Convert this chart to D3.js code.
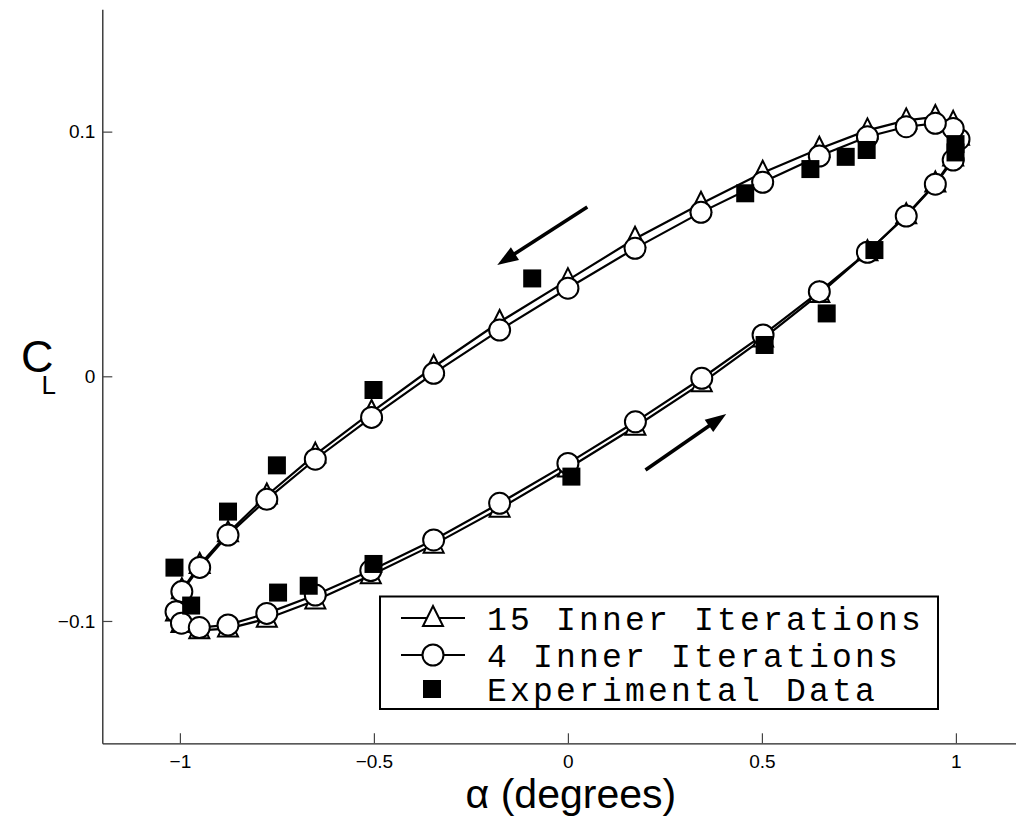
<!DOCTYPE html>
<html>
<head>
<meta charset="utf-8">
<script src="https://cdn.jsdelivr.net/npm/d3@7"></script>
<style>
  body { margin: 0; background: #fff; }
  text { fill: #000; }
</style>
</head>
<body>
<svg id="chart" width="1016" height="819"></svg>
<script>
// angle of attack for the simulated points (one pitching cycle)
const alphaSim = [0, 0.174, 0.345, 0.503, 0.648, 0.772, 0.872, 0.947, 0.993, 1.008,
  0.993, 0.947, 0.872, 0.772, 0.648, 0.502, 0.343, 0.173, 0,
  -0.176, -0.346, -0.506, -0.651, -0.776, -0.876, -0.949, -0.995, -1.01,
  -0.996, -0.95, -0.876, -0.776, -0.651, -0.508, -0.346, -0.176];

// 15 inner iterations
const cl15 = [-0.0377, -0.0206, -0.0028, 0.0154, 0.0336, 0.0507, 0.0658, 0.0788, 0.0894, 0.0979,
  0.1036, 0.1060, 0.1046, 0.1005, 0.0930, 0.0832, 0.0705, 0.0562, 0.0393,
  0.0222, 0.0038, -0.0146, -0.0320, -0.0487, -0.0641, -0.0771, -0.0874, -0.0965,
  -0.1012, -0.1038, -0.1031, -0.0991, -0.0916, -0.0813, -0.0688, -0.0541];

// 4 inner iterations
const cl4 = [-0.0356, -0.0186, -0.0008, 0.0169, 0.0346, 0.0507, 0.0655, 0.0785, 0.0884, 0.0969,
  0.1013, 0.1034, 0.1020, 0.0979, 0.0900, 0.0793, 0.0670, 0.0523, 0.0360,
  0.0189, 0.0012, -0.0168, -0.0339, -0.0503, -0.0649, -0.0781, -0.0880, -0.0962,
  -0.1009, -0.1027, -0.1016, -0.0969, -0.0894, -0.0794, -0.0669, -0.0519];

// experimental data
const alphaExp = [-1.014, -0.971, -0.876, -0.750, -0.501, -0.092, 0.457, 0.625, 0.716, 0.770,
  0.999, 0.999, 0.790, 0.667, 0.507, 0.009, -0.501, -0.668, -0.747];
const clExp = [-0.0782, -0.0937, -0.0553, -0.0364, -0.0056, 0.0400, 0.0748, 0.0847, 0.0897, 0.0925,
  0.0949, 0.0915, 0.0516, 0.0257, 0.0128, -0.0410, -0.0767, -0.0856, -0.0884];

// direction arrows [from, to] in data units
const arrows = [
  [[0.05, 0.0692], [-0.182, 0.0455]],
  [[0.20, -0.0383], [0.408, -0.0154]]
];

const xTicks = [-1, -0.5, 0, 0.5, 1];
const yTicks = [-0.1, 0, 0.1];
const legendLabels = ["15 Inner Iterations", "4 Inner Iterations", "Experimental Data"];

const svg = d3.select("#chart");

const x = d3.scaleLinear().domain([-1.2, 1.2]).range([102.3, 1033.5]);
const y = d3.scaleLinear().domain([-0.15, 0.15]).range([743.3, 9.3]);

/*
 * axes (MATLAB style, box off, ticks inward)
 */
const xAxis = svg.append("g")
  .attr("transform", `translate(0,${y(-0.15)})`)
  .call(d3.axisBottom(x).tickValues(xTicks).tickSizeInner(-10).tickSizeOuter(0)
    .tickPadding(11.5).tickFormat(d3.format("")));

const yAxis = svg.append("g")
  .attr("transform", `translate(${x(-1.2)},0)`)
  .call(d3.axisLeft(y).tickValues(yTicks).tickSizeInner(-10).tickSizeOuter(0)
    .tickPadding(7).tickFormat(d3.format("")));

[xAxis, yAxis].forEach(ax => {
  ax.select(".domain").attr("stroke", "#222").attr("stroke-width", 1.3);
  ax.selectAll(".tick line").attr("stroke", "#444").attr("stroke-width", 1.2);
  ax.selectAll(".tick text")
    .attr("font-family", "'Liberation Sans', Arial, sans-serif")
    .attr("font-size", 19);
});

// axis labels
svg.append("text")
  .attr("x", x(0) + 3)
  .attr("y", 808)
  .attr("text-anchor", "middle")
  .attr("font-family", "'Liberation Sans', Arial, sans-serif")
  .attr("font-size", 41)
  .text("\u03b1 (degrees)");

const yl = svg.append("text")
  .attr("x", 21)
  .attr("y", 372)
  .attr("font-family", "'Liberation Sans', Arial, sans-serif")
  .attr("font-size", 45);
yl.append("tspan").text("C");
yl.append("tspan").attr("dx", -12).attr("dy", 22).attr("font-size", 26).text("L");

/*
 * series
 */
const sim15 = alphaSim.map((a, i) => [a, cl15[i]]);
const sim4 = alphaSim.map((a, i) => [a, cl4[i]]);
const exp = alphaExp.map((a, i) => [a, clExp[i]]);

const line = d3.line().x(d => x(d[0])).y(d => y(d[1])).curve(d3.curveLinearClosed);

const triPath = "M0,-12L10,8L-10,8Z";

// 15 inner iterations: line + triangles
svg.append("path")
  .datum(sim15)
  .attr("d", line)
  .attr("fill", "none")
  .attr("stroke", "#000")
  .attr("stroke-width", 2.2);

svg.append("g").selectAll("path")
  .data(sim15)
  .enter()
  .append("path")
  .attr("transform", d => `translate(${x(d[0])},${y(d[1])})`)
  .attr("d", triPath)
  .attr("fill", "#fff")
  .attr("stroke", "#000")
  .attr("stroke-width", 2);

// 4 inner iterations: line + circles
svg.append("path")
  .datum(sim4)
  .attr("d", line)
  .attr("fill", "none")
  .attr("stroke", "#000")
  .attr("stroke-width", 2.2);

svg.append("g").selectAll("circle")
  .data(sim4)
  .enter()
  .append("circle")
  .attr("cx", d => x(d[0]))
  .attr("cy", d => y(d[1]))
  .attr("r", 10.5)
  .attr("fill", "#fff")
  .attr("stroke", "#000")
  .attr("stroke-width", 2);

// experimental squares
svg.append("g").selectAll("rect")
  .data(exp)
  .enter()
  .append("rect")
  .attr("x", d => x(d[0]) - 9)
  .attr("y", d => y(d[1]) - 9)
  .attr("width", 18)
  .attr("height", 18)
  .attr("fill", "#000");

/*
 * arrows
 */
arrows.forEach(([from, to]) => {
  const x0 = x(from[0]), y0 = y(from[1]), x1 = x(to[0]), y1 = y(to[1]);
  const ang = Math.atan2(y1 - y0, x1 - x0);
  const len = 21, half = 7.5;
  const bx = x1 - len * Math.cos(ang), by = y1 - len * Math.sin(ang);
  svg.append("line")
    .attr("x1", x0).attr("y1", y0)
    .attr("x2", bx + 3 * Math.cos(ang)).attr("y2", by + 3 * Math.sin(ang))
    .attr("stroke", "#000")
    .attr("stroke-width", 3.6);
  svg.append("path")
    .attr("d", `M${x1},${y1}L${bx - half * Math.sin(ang)},${by + half * Math.cos(ang)}` +
      `L${bx + half * Math.sin(ang)},${by - half * Math.cos(ang)}Z`)
    .attr("fill", "#000");
});

/*
 * legend
 */
const legend = svg.append("g");
legend.append("rect")
  .attr("x", 380).attr("y", 596.5)
  .attr("width", 558).attr("height", 112.5)
  .attr("fill", "#fff")
  .attr("stroke", "#000")
  .attr("stroke-width", 2);

const rowY = [618, 655, 689];
legendLabels.forEach((lab, i) => {
  const g = legend.append("g").attr("transform", `translate(0,${rowY[i]})`);
  if (i < 2) {
    g.append("line")
      .attr("x1", 401).attr("x2", 465)
      .attr("stroke", "#000").attr("stroke-width", 2);
  }
  if (i === 0) {
    g.append("path").attr("transform", "translate(433,0)").attr("d", triPath)
      .attr("fill", "#fff").attr("stroke", "#000").attr("stroke-width", 2);
  } else if (i === 1) {
    g.append("circle").attr("cx", 433).attr("r", 10.5)
      .attr("fill", "#fff").attr("stroke", "#000").attr("stroke-width", 2);
  } else {
    g.append("rect").attr("x", 423).attr("y", -9).attr("width", 18).attr("height", 18)
      .attr("fill", "#000");
  }
  g.append("text")
    .attr("x", 487)
    .attr("y", 0)
    .attr("dy", "0.35em")
    .attr("font-family", "'Liberation Mono', 'Courier New', monospace")
    .attr("font-size", 33)
    .attr("letter-spacing", 3.2)
    .text(lab);
});
</script>
</body>
</html>
